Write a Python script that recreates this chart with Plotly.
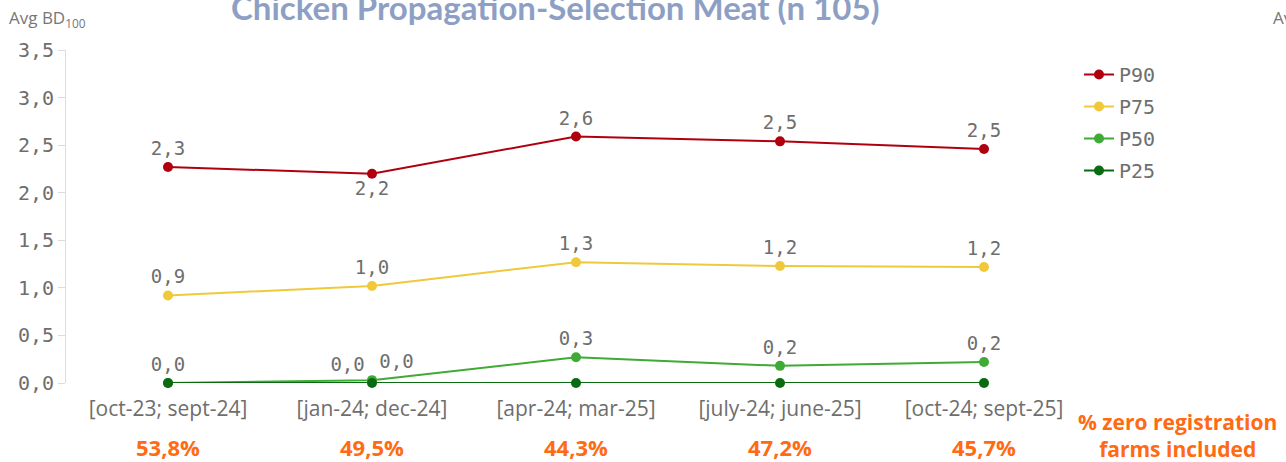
import plotly.graph_objects as go

categories = ["[oct-23; sept-24]", "[jan-24; dec-24]", "[apr-24; mar-25]", "[july-24; june-25]", "[oct-24; sept-25]"]
p90 = [2.27, 2.20, 2.59, 2.54, 2.46]
p75 = [0.92, 1.02, 1.27, 1.23, 1.22]
p50 = [0.00, 0.03, 0.27, 0.18, 0.22]
p25 = [0.00, 0.00, 0.00, 0.00, 0.00]
zero_pct = ["53,8%", "49,5%", "44,3%", "47,2%", "45,7%"]
title = "Chicken Propagation-Selection Meat (n 105)"

# body margin is removed by the post script, so page pixels == figure pixels
W, H = 1286, 462
ML, MT = 66, 50
PLOT_R, PLOT_B = 1086, 383
MR, MB = W - PLOT_R, H - PLOT_B
PW, PH = W - ML - MR, H - MT - MB

def px_x(page_x):
    return (page_x - ML) / PW

def px_y(page_y):
    return (PLOT_B - page_y) / PH

mono = "DejaVu Sans Mono"
grey = "#6e6e6e"
orange = "#ff6a13"

def lab(v):
    return f"{v:.1f}".replace(".", ",")

fig = go.Figure()

series = [
    ("P90", p90, "#b0000f", [lab(v) for v in p90], ["top center", "bottom center", "top center", "top center", "top center"]),
    ("P75", p75, "#f0c93a", [lab(v) for v in p75], ["top center"] * 5),
    ("P50", p50, "#3faa35", [lab(v) for v in p50],
     ["top center", "top right", "top center", "top center", "top center"]),
    ("P25", p25, "#0b6b12", ["", lab(p25[1]), "", "", ""], ["top center", "top left", "top center", "top center", "top center"]),
]

for name, vals, color, texts, pos in series:
    fig.add_trace(go.Scatter(
        x=categories, y=vals, name=name, legendgroup=name, mode="lines+markers+text",
        line=dict(color=color, width=2), marker=dict(color=color, size=10),
        text=texts, textposition=pos,
        textfont=dict(family=mono, size=19, color=grey),
        cliponaxis=False,
    ))

fig.update_layout(
    width=W, height=H,
    margin=dict(l=ML, r=MR, t=MT, b=MB, autoexpand=False),
    paper_bgcolor="white", plot_bgcolor="white",
    showlegend=True,
    separators=",.",
    legend=dict(x=px_x(1079), y=px_y(55), xanchor="left", yanchor="top",
                font=dict(family=mono, size=20, color=grey),
                itemwidth=30, traceorder="grouped", tracegroupgap=3,
                bgcolor="rgba(0,0,0,0)"),
    xaxis=dict(type="category", range=[-0.5, 4.5], showgrid=False, zeroline=False,
               showline=False, ticks="", ticklabelstandoff=11,
               tickfont=dict(family="Open Sans", size=21, color=grey)),
    yaxis=dict(range=[0, 3.5], dtick=0.5, tickformat=".1f", showgrid=False,
               zeroline=False, showline=True, linecolor="#dddddd", linewidth=1,
               ticks="outside", tickcolor="#dddddd", ticklen=7,
               tickfont=dict(family=mono, size=20, color=grey)),
)

fig.add_annotation(x=px_x(555), y=px_y(7), xref="paper", yref="paper",
                   xanchor="center", yanchor="middle", text=f"<b>{title}</b>", showarrow=False,
                   font=dict(family="Lato", size=33, color="#8e9fc5"))

for i, p in enumerate(zero_pct):
    fig.add_annotation(x=categories[i], y=px_y(447), xref="x", yref="paper",
                       yanchor="middle", text=f"<b>{p}</b>", showarrow=False,
                       font=dict(family="Open Sans", size=22, color=orange))

fig.add_annotation(x=px_x(1177), y=px_y(435),
                   xref="paper", yref="paper", xanchor="center", yanchor="middle",
                   text="<b>% zero registration<br>farms included</b>", showarrow=False,
                   font=dict(family="Open Sans", size=21, color=orange))

fig.add_annotation(x=px_x(7), y=px_y(19),
                   xref="paper", yref="paper", xanchor="left", yanchor="middle",
                   text="Avg BD<sub>100</sub>", showarrow=False,
                   font=dict(family="Open Sans", size=17, color="#777777"))
fig.add_annotation(x=px_x(1271), y=px_y(19),
                   xref="paper", yref="paper", xanchor="left", yanchor="middle",
                   text="Avg BD<sub>100</sub>", showarrow=False,
                   font=dict(family="Open Sans", size=17, color="#777777"))

fig.write_html("out.html", config={"displayModeBar": False},
               post_script="document.body.style.margin='0';document.body.style.overflow='hidden';")
